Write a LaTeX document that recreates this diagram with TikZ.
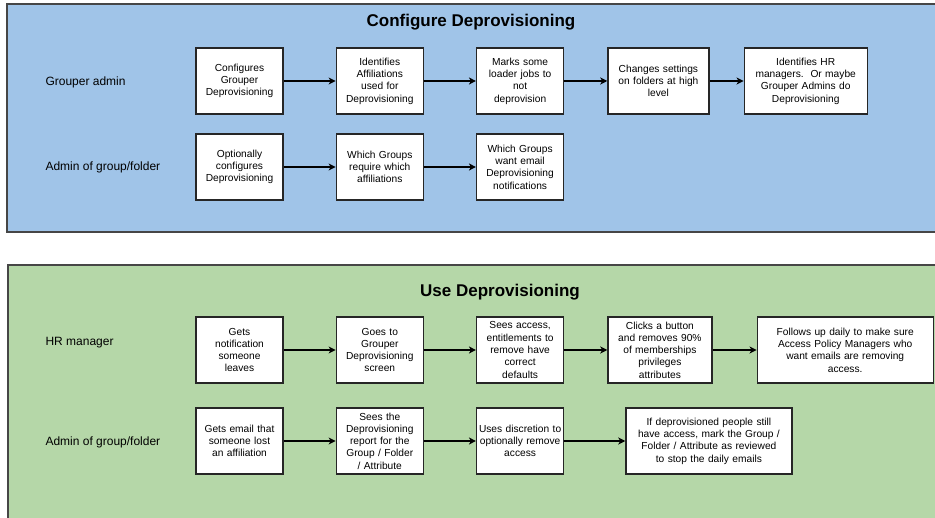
\documentclass[tikz,border=0pt]{standalone}
\usepackage{fontspec}
\setmainfont{Liberation Sans}
\usetikzlibrary{positioning,arrows.meta}
\definecolor{cfgblue}{RGB}{160,196,232}
\definecolor{usegreen}{RGB}{181,215,168}
\definecolor{edgegray}{RGB}{70,70,70}

\begin{document}
\begin{tikzpicture}[x=1pt,y=-1pt,>={Stealth[length=7pt,width=7pt,inset=2pt]},
  panel/.style={draw=edgegray,line width=2pt},
  stepbox/.style={draw=black!85,fill=white,rectangle,line width=1.3pt,align=center,
    text width=85pt,inner xsep=1pt,minimum height=66pt,
    font=\fontsize{10.2}{12.3}\selectfont},
  lane/.style={anchor=west,font=\fontsize{12}{14}\selectfont},
  heading/.style={font=\fontsize{17}{20}\selectfont\bfseries},
  flow/.style={->,line width=1.5pt}]
\clip (0,0) rectangle (935,518);
\fill[white] (0,0) rectangle (935,518);
\draw[panel,fill=cfgblue] (7,4) rectangle (950,232);
\draw[panel,fill=usegreen] (8,265) rectangle (950,530);

\node[heading] (cfgtitle) at (471,22) {Configure Deprovisioning};
\node[heading] (usetitle) at (500,292) {Use Deprovisioning};

\node[lane] (groupadm) at (42,82) {Grouper admin};
\node[lane] (folderadm) at (42,167.5) {Admin of group/folder};
\node[lane] (hr) at (42,343) {HR manager};
\node[lane] (folderuse) at (42,442) {Admin of group/folder};

\node[stepbox] (conf) at (239.5,81) {Configures\\Grouper\\Deprovisioning};
\node[stepbox,right=52pt of conf] (affil) {Identifies\\Affiliations\\used for\\Deprovisioning};
\node[stepbox,right=52pt of affil] (loader) {Marks some\\loader jobs to\\not\\deprovision};
\node[stepbox,right=43pt of loader,text width=99pt] (folders) {Changes settings\\on folders at high\\level};
\node[stepbox,right=34pt of folders,text width=121pt] (hrid) {Identifies HR\\managers.\ \ Or maybe\\Grouper Admins do\\Deprovisioning};
\draw[flow] (conf) -- (affil);
\draw[flow] (affil) -- (loader);
\draw[flow] (loader) -- (folders);
\draw[flow] (folders) -- (hrid);

\node[stepbox] (optconf) at (239.5,167) {Optionally\\configures\\Deprovisioning};
\node[stepbox,right=52pt of optconf] (reqaff) {Which Groups\\require which\\affiliations};
\node[stepbox,right=52pt of reqaff] (wantmail) {Which Groups\\want email\\Deprovisioning\\notifications};
\draw[flow] (optconf) -- (reqaff);
\draw[flow] (reqaff) -- (wantmail);

\node[stepbox] (notif) at (239.5,350) {Gets\\notification\\someone\\leaves};
\node[stepbox,right=52pt of notif] (screen) {Goes to\\Grouper\\Deprovisioning\\screen};
\node[stepbox,right=52pt of screen] (access) {Sees access,\\entitlements to\\remove have\\correct\\defaults};
\node[stepbox,right=43pt of access,text width=102pt] (button) {Clicks a button\\and removes 90\%\\of memberships\\privileges\\attributes};
\node[stepbox,right=44pt of button,text width=174pt] (follow) {Follows up daily to make sure\\Access Policy Managers who\\want emails are removing\\access.};
\draw[flow] (notif) -- (screen);
\draw[flow] (screen) -- (access);
\draw[flow] (access) -- (button);
\draw[flow] (button) -- (follow);

\node[stepbox] (email) at (239.5,441) {Gets email that\\someone lost\\an affiliation};
\node[stepbox,right=52pt of email] (report) {Sees the\\Deprovisioning\\report for the\\Group / Folder\\/ Attribute};
\node[stepbox,right=52pt of report] (discr) {Uses discretion to\\optionally remove\\access};
\node[stepbox,right=61pt of discr,text width=164pt] (review) {If deprovisioned people still\\have access, mark the Group /\\Folder / Attribute as reviewed\\to stop the daily emails};
\draw[flow] (email) -- (report);
\draw[flow] (report) -- (discr);
\draw[flow] (discr) -- (review);
\end{tikzpicture}
\end{document}
